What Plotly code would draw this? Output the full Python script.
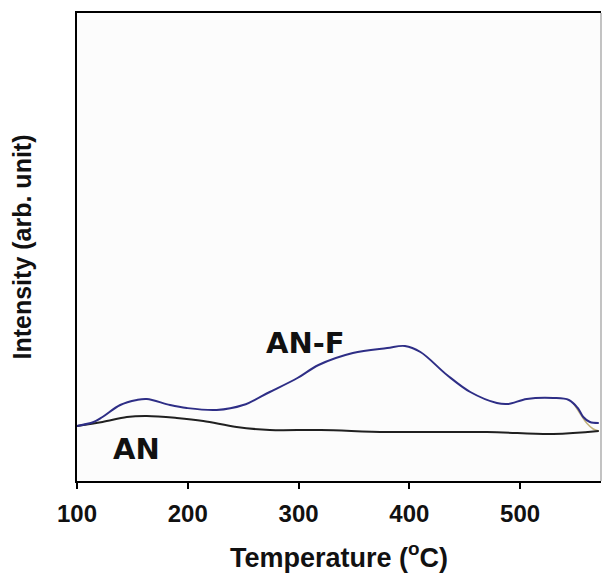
import plotly.graph_objects as go

# Temperature (°C) and intensity (arb. unit)
t_anf = [100, 115, 123, 139, 154, 163, 184, 199, 226, 250, 274, 299, 318, 349, 380, 396, 410,
         434, 455, 479, 489, 506, 530, 544, 552, 557, 563, 571]
i_anf = [55, 59, 64, 76, 81, 82, 76, 73, 71, 76, 89, 103, 116, 128, 133, 135, 129,
         106, 89, 78, 77, 82, 83, 81, 73, 64, 59, 58]

t_an = [100, 123, 145, 163, 190, 214, 244, 274, 320, 380, 470, 530, 571]
i_an = [55, 59, 64, 65, 63, 60, 54, 51, 51, 49, 49, 47, 50]

t_tail = [548, 555, 560, 566, 571]
i_tail = [78, 66, 58, 52, 50]

x_ticks = [100, 200, 300, 400, 500]

fig = go.Figure()
fig.add_trace(go.Scatter(x=t_tail, y=i_tail, mode="lines",
                         line=dict(color="#c2b27a", width=1.5, shape="spline"), showlegend=False))
fig.add_trace(go.Scatter(x=t_an, y=i_an, mode="lines",
                         line=dict(color="#202020", width=2, shape="spline"), showlegend=False))
fig.add_trace(go.Scatter(x=t_anf, y=i_anf, mode="lines",
                         line=dict(color="#2e2e86", width=2, shape="spline"), showlegend=False))

fig.add_annotation(x=306, y=138, text="AN-F", showarrow=False,
                   font=dict(family="DejaVu Sans", size=29, color="#111111", weight="bold"))
fig.add_annotation(x=154, y=32, text="AN", showarrow=False,
                   font=dict(family="DejaVu Sans", size=29, color="#111111", weight="bold"))

fig.add_shape(type="line", xref="paper", yref="paper", x0=1, x1=1, y0=0, y1=1,
              line=dict(color="#888888", width=1))

fig.update_layout(
    width=602, height=575,
    margin=dict(l=77, r=1, t=13, b=94),
    plot_bgcolor="#fcfcfc", paper_bgcolor="white",
    xaxis=dict(range=[100, 573], tickvals=x_ticks, ticks="outside", ticklen=6, tickwidth=2,
               tickcolor="black", showline=True, linecolor="black", linewidth=2, mirror=True,
               showgrid=False, zeroline=False, ticklabelstandoff=4,
               tickfont=dict(family="Liberation Sans", size=24, color="#111111", weight="bold"),
               title=dict(text="Temperature (<sup>o</sup>C)", standoff=22,
                          font=dict(family="Liberation Sans", size=27, color="#111111", weight="bold"))),
    yaxis=dict(range=[0, 468], showticklabels=False, ticks="", showline=True, linecolor="black",
               linewidth=2, showgrid=False, zeroline=False,
               title=dict(text="Intensity (arb. unit)", standoff=36,
                          font=dict(family="Liberation Sans", size=25, color="#111111", weight="bold"))),
)

fig.write_html("out.html", post_script="document.body.style.margin='0';",
               config={"displayModeBar": False})
